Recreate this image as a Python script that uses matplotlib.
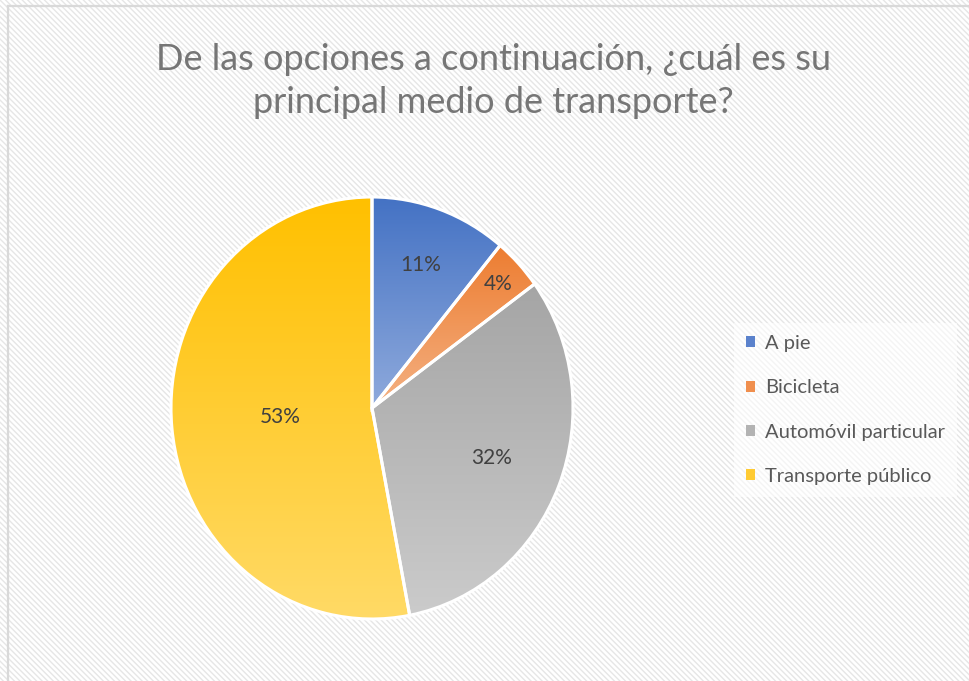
import matplotlib
matplotlib.use("Agg")
import matplotlib.pyplot as plt
import numpy as np
from matplotlib.patches import Rectangle, Patch
from matplotlib.lines import Line2D
from matplotlib.colors import to_rgb

# ---- data ----
categories = ["A pie", "Bicicleta", "Automóvil particular", "Transporte público"]
values = [11, 4, 32, 53]
title = "De las opciones a continuación, ¿cuál es su\nprincipal medio de transporte?"

# ---- styles ----
top_colors = ["#4472C4", "#ED7D31", "#A5A5A5", "#FFC000"]
bottom_colors = ["#8FAADC", "#F4B183", "#CBCBCB", "#FFDA66"]
legend_colors = ["#5B82CC", "#F08F4E", "#B3B3B3", "#FFCB33"]
label_radius = [0.72, 0.86, 0.64, 0.46]

plt.rcParams["hatch.linewidth"] = 1.0
W, H = 969, 681
fig = plt.figure(figsize=(W / 100, H / 100), dpi=100, facecolor="white")

# hatched background
bg = Rectangle((0, 0), 1, 1, transform=fig.transFigure, facecolor="white",
               edgecolor="#E6E6E6", hatch="\\\\\\\\\\\\", lw=0, zorder=-10)
fig.patches.append(bg)
# border (left and top)
fig.lines.append(Line2D([8 / W, 8 / W], [0, 1 - 6 / H], transform=fig.transFigure,
                        color="#D9D9D9", lw=1.6))
fig.lines.append(Line2D([8 / W, 1], [1 - 6 / H, 1 - 6 / H], transform=fig.transFigure,
                        color="#D9D9D9", lw=1.6))

cx, cy, rx, ry = 372, 408, 201, 211
ax = fig.add_axes([(cx - rx) / W, (H - cy - ry) / H, 2 * rx / W, 2 * ry / H])
ax.patch.set_alpha(0)

wedges, texts, autotexts = ax.pie(
    values, startangle=90, counterclock=False, radius=1,
    colors=top_colors, autopct="%1.0f%%", pctdistance=0.6,
    wedgeprops=dict(edgecolor="white", linewidth=2.2),
    textprops=dict(color="#404040", fontsize=15, family="Lato"))
ax.set_aspect("auto")
ax.axis("off")

# vertical gradient per wedge
for w, c0, c1 in zip(wedges, top_colors, bottom_colors):
    bb = w.get_path().get_extents()
    a = np.array(to_rgb(c0))
    b = np.array(to_rgb(c1))
    t = np.linspace(0, 1, 256)[:, None]
    grad = (a * (1 - t) + b * t)[:, None, :]  # row 0 = top
    im = ax.imshow(grad, extent=[bb.x0, bb.x1, bb.y0, bb.y1], origin="upper",
                   aspect="auto", zorder=1, interpolation="bilinear")
    im.set_clip_path(w)
    w.set_facecolor("none")
    w.set_zorder(2)

for w, t, r in zip(wedges, autotexts, label_radius):
    ang = np.deg2rad((w.theta1 + w.theta2) / 2)
    t.set_position((r * np.cos(ang), r * np.sin(ang)))
    t.set_zorder(3)

ax.set_aspect("auto")
ax.set_xlim(-1, 1)
ax.set_ylim(-1, 1)

fig.text(493 / W, 1 - 81 / H, title, ha="center", va="center", fontsize=26,
         color="#767676", family="Lato", linespacing=1.38)

handles = [Patch(facecolor=c, edgecolor="none") for c in legend_colors]
leg = fig.legend(handles, categories, loc="center left",
                 bbox_to_anchor=(724 / W, 1 - 410 / H), frameon=True,
                 labelcolor="#595959", handlelength=0.45,
                 handleheight=0.45, handletextpad=0.5, labelspacing=1.36,
                 borderpad=0.6, prop=dict(family="Lato", size=14.5))
leg.get_frame().set_facecolor("white")
leg.get_frame().set_alpha(0.6)
leg.get_frame().set_edgecolor("none")
leg.get_frame().set_boxstyle("square", pad=0)

fig.savefig("out.png", dpi=100, facecolor="white")
